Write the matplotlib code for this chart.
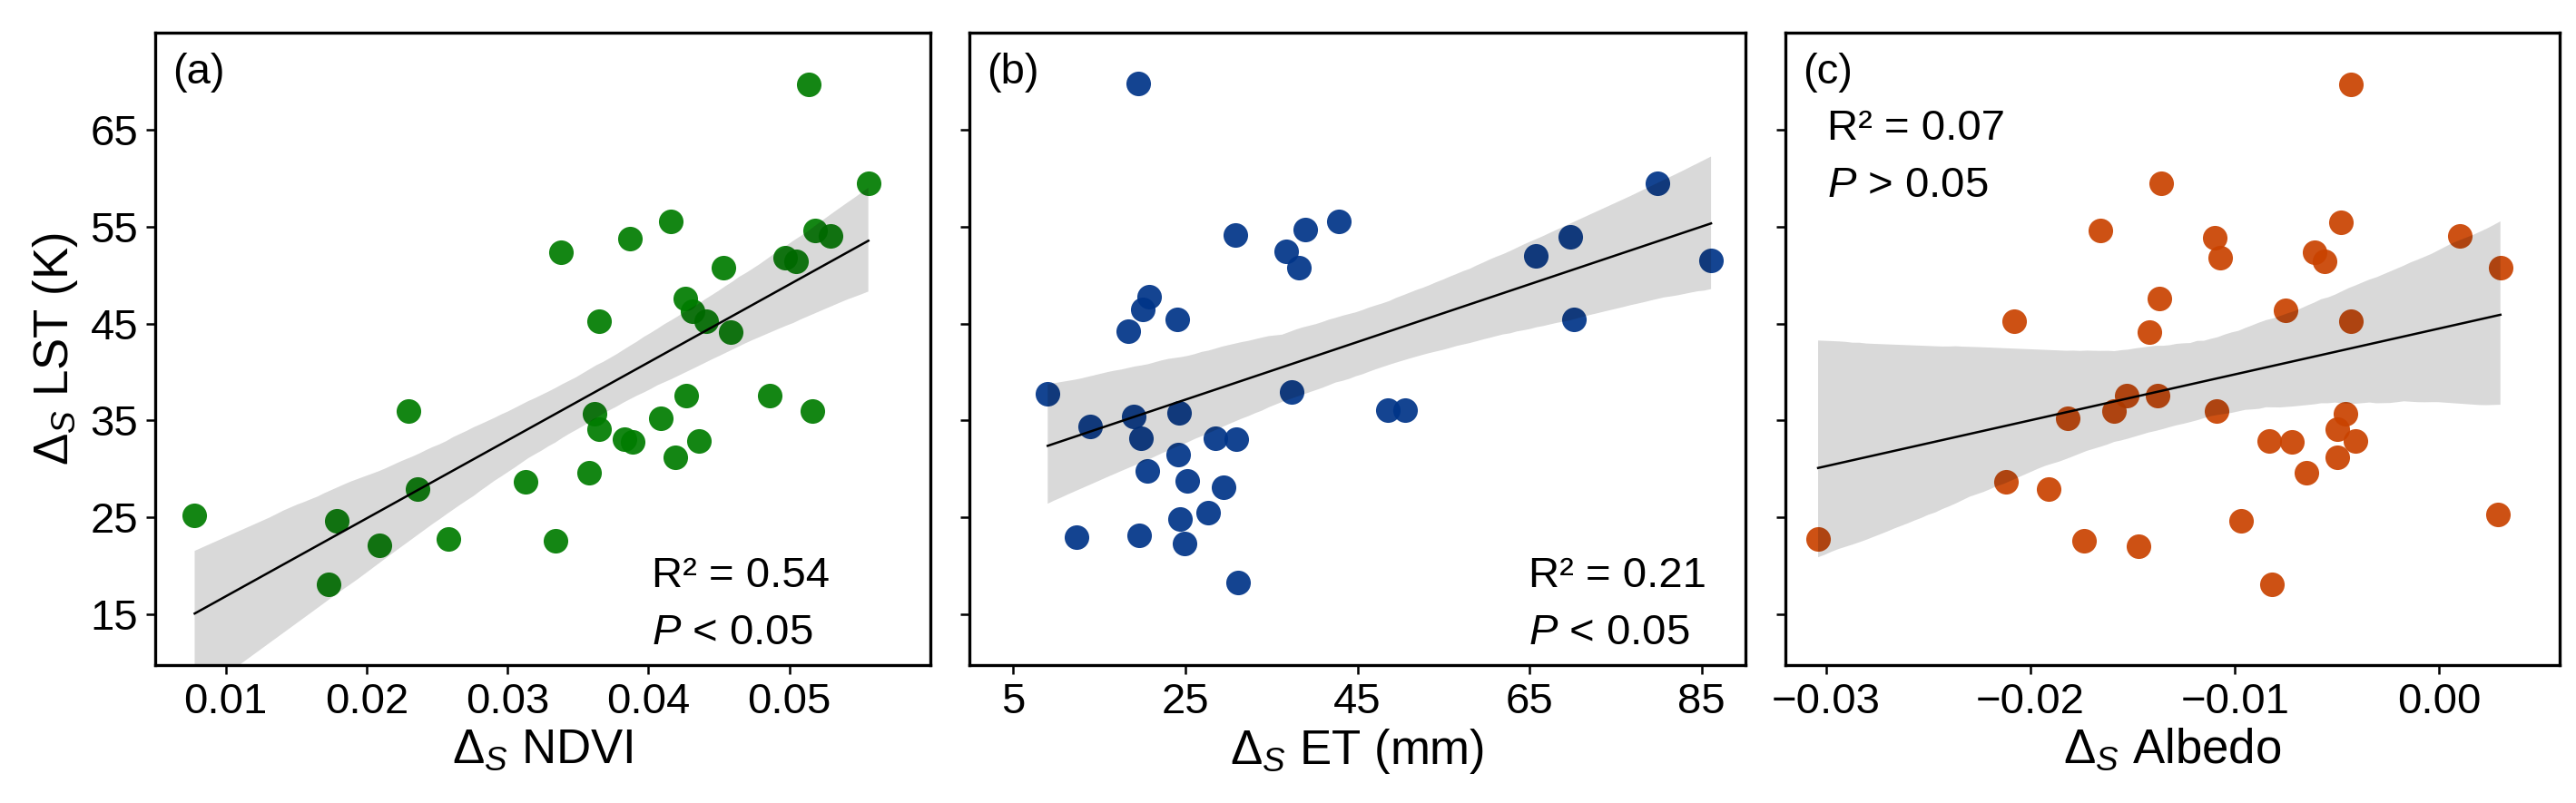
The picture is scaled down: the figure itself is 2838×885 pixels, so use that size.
import numpy as np
import matplotlib
matplotlib.use("Agg")
import matplotlib.pyplot as plt
import seaborn as sns

plt.rcParams["font.family"] = ["Liberation Sans", "DejaVu Sans"]
plt.rcParams["mathtext.fontset"] = "custom"
plt.rcParams["mathtext.rm"] = "Liberation Sans"
plt.rcParams["mathtext.it"] = "Liberation Sans:italic"
plt.rcParams["mathtext.bf"] = "Liberation Sans:bold"

# (a) NDVI vs LST
ndvi = [0.0078, 0.0173, 0.0179, 0.0209, 0.0230, 0.0236, 0.0258, 0.0313, 0.0334,
        0.0338, 0.0358, 0.0362, 0.0365, 0.0365, 0.0383, 0.0389, 0.0387, 0.0409,
        0.0416, 0.0419, 0.0426, 0.0427, 0.0431, 0.0436, 0.0441, 0.0453, 0.0458,
        0.0486, 0.0497, 0.0505, 0.0514, 0.0516, 0.0518, 0.0529, 0.0556]
lst_a = [25.2, 18.1, 24.6, 22.1, 36.0, 27.9, 22.8, 28.7, 22.6,
         52.4, 29.6, 35.7, 45.3, 34.1, 33.1, 32.8, 53.8, 35.2,
         55.6, 31.2, 47.6, 37.6, 46.3, 32.9, 45.3, 50.8, 44.1,
         37.6, 51.8, 51.4, 69.7, 36.0, 54.6, 54.1, 59.5]

# (b) ET vs LST
et = [9.0, 12.3, 13.9, 18.4, 19.0, 19.5, 19.6, 19.8, 20.1, 20.6, 20.8, 24.1,
      24.2, 24.3, 24.4, 24.9, 25.2, 27.6, 28.5, 29.4, 30.8, 30.9, 31.1, 36.7,
      37.4, 38.2, 38.9, 42.8, 48.5, 50.5, 65.7, 69.7, 70.2, 79.9, 86.1]
lst_b = [37.8, 22.9, 34.4, 44.2, 35.4, 69.8, 23.1, 33.2, 46.5, 29.8, 47.8, 45.4,
         31.5, 35.8, 24.8, 22.3, 28.8, 25.5, 33.2, 28.1, 54.2, 33.1, 18.3, 52.5,
         37.9, 50.8, 54.7, 55.6, 36.1, 36.1, 52.0, 54.0, 45.4, 59.5, 51.5]

# (c) Albedo vs LST
albedo = [-0.0304, -0.0212, -0.0208, -0.0191, -0.0182, -0.0174, -0.0166, -0.0159,
          -0.0153, -0.0147, -0.0142, -0.0138, -0.0137, -0.0136, -0.0110, -0.0109,
          -0.0107, -0.0097, -0.0083, -0.0082, -0.0075, -0.0072, -0.0065, -0.0061,
          -0.0056, -0.0050, -0.0050, -0.0048, -0.0046, -0.0043, -0.0043, -0.0041,
          0.0010, 0.0029, 0.0030]
lst_c = [22.8, 28.7, 45.3, 27.9, 35.2, 22.6, 54.6, 36.0,
         37.6, 22.0, 44.1, 37.6, 47.6, 59.5, 53.9, 36.0,
         51.8, 24.6, 32.9, 18.1, 46.4, 32.8, 29.6, 52.4,
         51.4, 34.1, 31.2, 55.5, 35.7, 45.3, 69.7, 32.9,
         54.1, 25.3, 50.8]

panels = [
    (ndvi, lst_a, "#007c00", r"$\Delta_{S}$ NDVI", [0.01, 0.02, 0.03, 0.04, 0.05],
     (0.0050, 0.0600), "(a)", "R² = 0.54", r"$P$ < 0.05", 0.64, 0.123, 0.033),
    (et, lst_b, "#003488", r"$\Delta_{S}$ ET (mm)", [5, 25, 45, 65, 85],
     (-0.1, 90.1), "(b)", "R² = 0.21", r"$P$ < 0.05", 0.72, 0.123, 0.033),
    (albedo, lst_c, "#c94200", r"$\Delta_{S}$ Albedo", [-0.03, -0.02, -0.01, 0.00],
     (-0.0320, 0.0059), "(c)", "R² = 0.07", r"$P$ > 0.05", 0.054, 0.831, 0.74),
]

fig = plt.figure(figsize=(28.38, 8.85), dpi=100)
lefts = [171, 1068, 1967]
widths = [854, 855, 853]

for i, (x, y, col, xlab, xt, xl, tag, r2, pv, tx, ty1, ty2) in enumerate(panels):
    ax = fig.add_axes([lefts[i] / 2838, 152 / 885, widths[i] / 2838, 697 / 885])
    sns.regplot(x=np.array(x), y=np.array(y), ax=ax, color="black", ci=95,
                n_boot=1000, seed=3,
                scatter_kws=dict(color=col, s=380, alpha=0.92, linewidths=0),
                line_kws=dict(lw=1.8))
    ax.set_xlim(*xl)
    ax.set_ylim(9.73, 75.06)
    ax.set_xticks(xt)
    ax.set_yticks([15, 25, 35, 45, 55, 65])
    ax.set_xlabel(xlab, fontsize=38, labelpad=4)
    if i == 0:
        ax.set_ylabel(r"$\Delta_{S}$ LST (K)", fontsize=38, labelpad=8)
    else:
        ax.set_ylabel("")
        ax.tick_params(axis="y", labelleft=False)
    ax.tick_params(axis="both", direction="out", length=7.5, width=1.8,
                   labelsize=34, pad=6)
    for sp in ax.spines.values():
        sp.set_linewidth(2.4)
    ax.text(0.022, 0.92, tag, transform=ax.transAxes, fontsize=34, va="baseline")
    ax.text(tx, ty1, r2, transform=ax.transAxes, fontsize=34, va="baseline")
    ax.text(tx, ty2, pv, transform=ax.transAxes, fontsize=34, va="baseline")

fig.savefig("out.png", dpi=100)
